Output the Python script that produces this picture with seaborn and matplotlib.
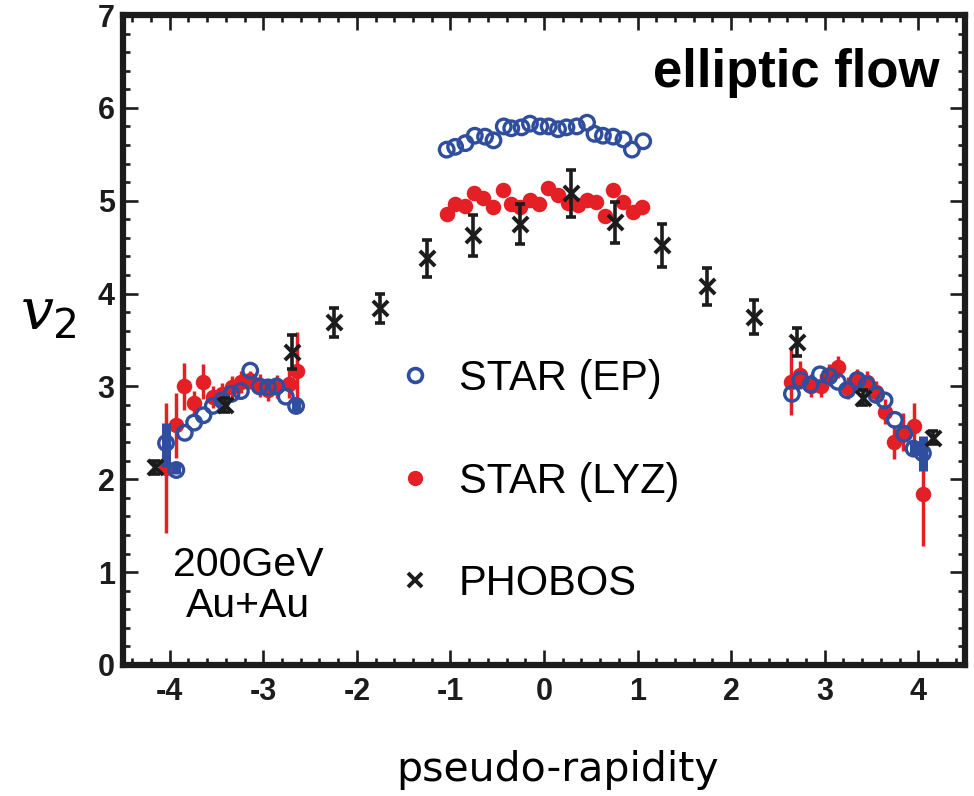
import numpy as np
import pandas as pd
import seaborn as sns
import matplotlib
matplotlib.use("Agg")
import matplotlib.pyplot as plt
from matplotlib.ticker import MultipleLocator
from matplotlib.lines import Line2D

# ---------------- data ----------------
ep_eta = [-4.04, -3.93, -3.84, -3.74, -3.64, -3.54, -3.44, -3.34, -3.24, -3.14, -3.04, -2.95, -2.86, -2.76, -2.65,
          -1.04, -0.95, -0.84, -0.74, -0.63, -0.54, -0.43, -0.35, -0.24, -0.15, -0.04, 0.05, 0.15, 0.24, 0.35,
          0.46, 0.54, 0.63, 0.74, 0.85, 0.94, 1.06,
          2.65, 2.74, 2.85, 2.95, 3.05, 3.14, 3.24, 3.35, 3.45, 3.55, 3.64, 3.75, 3.85, 3.95, 4.05]
ep_v2 = [2.39, 2.10, 2.50, 2.61, 2.69, 2.79, 2.85, 2.92, 2.95, 3.17, 3.00, 2.99, 3.00, 2.89, 2.79,
         5.55, 5.58, 5.62, 5.70, 5.69, 5.65, 5.80, 5.78, 5.79, 5.83, 5.80, 5.80, 5.77, 5.79, 5.80,
         5.84, 5.72, 5.70, 5.69, 5.66, 5.55, 5.64,
         2.92, 3.07, 3.02, 3.13, 3.11, 3.05, 2.96, 3.07, 3.02, 2.91, 2.85, 2.64, 2.49, 2.33, 2.28]
ep_sys_eta = [-4.04, -3.93, -2.65, 3.95, 4.05]
ep_sys_v2 = [2.37, 2.12, 2.80, 2.33, 2.28]
ep_sys_err = [0.24, 0.06, 0.08, 0.07, 0.19]

lyz_eta = [-4.04, -3.93, -3.85, -3.74, -3.64, -3.54, -3.44, -3.34, -3.24, -3.14, -3.04, -2.95, -2.85, -2.73, -2.64,
           -1.04, -0.95, -0.84, -0.75, -0.65, -0.54, -0.44, -0.35, -0.26, -0.15, -0.05, 0.04, 0.15, 0.26, 0.36,
           0.46, 0.56, 0.65, 0.74, 0.84, 0.95, 1.05,
           2.64, 2.74, 2.85, 2.96, 3.05, 3.14, 3.25, 3.35, 3.45, 3.55, 3.64, 3.74, 3.84, 3.95, 4.05]
lyz_v2 = [2.12, 2.58, 3.00, 2.82, 3.05, 2.89, 2.92, 2.99, 3.05, 3.07, 3.01, 2.96, 3.00, 3.03, 3.17,
          4.86, 4.96, 4.94, 5.08, 5.03, 4.93, 5.12, 4.96, 4.93, 5.01, 4.96, 5.14, 5.06, 4.98, 4.95,
          5.01, 4.99, 4.84, 5.12, 4.99, 4.88, 4.93,
          3.05, 3.12, 3.01, 3.01, 3.12, 3.21, 2.98, 3.07, 3.05, 2.94, 2.73, 2.40, 2.51, 2.57, 1.84]
lyz_err = [0.70, 0.35, 0.25, 0.13, 0.19, 0.12, 0.12, 0.12, 0.12, 0.10, 0.12, 0.12, 0.12, 0.15, 0.42,
           0.03, 0.03, 0.03, 0.03, 0.03, 0.03, 0.03, 0.03, 0.03, 0.03, 0.03, 0.03, 0.03, 0.03, 0.03,
           0.03, 0.03, 0.03, 0.03, 0.03, 0.03, 0.03,
           0.36, 0.15, 0.12, 0.12, 0.12, 0.12, 0.12, 0.12, 0.12, 0.12, 0.13, 0.18, 0.20, 0.25, 0.56]

phobos_eta = [-4.16, -3.41, -2.69, -2.25, -1.75, -1.25, -0.76, -0.26, 0.29, 0.76, 1.26, 1.74, 2.24, 2.70, 3.41, 4.16]
phobos_v2 = [2.13, 2.80, 3.37, 3.69, 3.84, 4.38, 4.63, 4.75, 5.08, 4.77, 4.52, 4.08, 3.75, 3.48, 2.88, 2.45]
phobos_err = [0.07, 0.08, 0.18, 0.16, 0.16, 0.20, 0.22, 0.22, 0.25, 0.22, 0.23, 0.20, 0.18, 0.15, 0.08, 0.07]

x_ticks = [-4, -3, -2, -1, 0, 1, 2, 3, 4]
y_ticks = [0, 1, 2, 3, 4, 5, 6, 7]
series_labels = ["STAR (EP)", "STAR (LYZ)", "PHOBOS"]

BLUE = "#2f4e9e"
RED = "#e41f26"
BLACK = "#1c1c1c"

ep_df = pd.DataFrame({"eta": ep_eta, "v2": ep_v2})
lyz_df = pd.DataFrame({"eta": lyz_eta, "v2": lyz_v2})
ph_df = pd.DataFrame({"eta": phobos_eta, "v2": phobos_v2})

# ---------------- style ----------------
sns.set_theme(style="white")
plt.rcParams["font.family"] = ["Liberation Sans", "DejaVu Sans"]
plt.rcParams["axes.unicode_minus"] = False
plt.rcParams["mathtext.fontset"] = "custom"
plt.rcParams["mathtext.it"] = "DejaVu Serif:italic"
plt.rcParams["mathtext.rm"] = "DejaVu Sans"

fig = plt.figure(figsize=(9.74, 7.96), dpi=100)
ax = fig.add_axes([123 / 974, 1 - 665 / 796, (965 - 123) / 974, (665 - 15) / 796])

# LYZ error bars + markers
ax.errorbar(lyz_eta, lyz_v2, yerr=lyz_err, fmt="none", ecolor=RED, elinewidth=2.5, capsize=0, zorder=2)
sns.scatterplot(data=lyz_df, x="eta", y="v2", ax=ax, color=RED, s=125, linewidth=0, zorder=3)

# EP systematic bars + open circles
ax.errorbar(ep_sys_eta, ep_sys_v2, yerr=ep_sys_err, fmt="none", ecolor=BLUE, elinewidth=6.5, capsize=0, zorder=4)
sns.scatterplot(data=ep_df, x="eta", y="v2", ax=ax, marker="o", s=110, facecolor="none",
                edgecolor=BLUE, linewidth=2.4, zorder=5)

# PHOBOS
ax.errorbar(phobos_eta, phobos_v2, yerr=phobos_err, fmt="none", ecolor=BLACK, elinewidth=2.6,
            capsize=3.4, capthick=2.6, zorder=6)
sns.scatterplot(data=ph_df, x="eta", y="v2", ax=ax, marker="x", s=120, color=BLACK, linewidth=2.8, zorder=7)

# axes
ax.set_xlim(-4.5, 4.5)
ax.set_ylim(0, 7)
ax.set_xticks(x_ticks)
ax.set_yticks(y_ticks)
ax.xaxis.set_minor_locator(MultipleLocator(0.2))
ax.yaxis.set_minor_locator(MultipleLocator(0.2))
ax.tick_params(which="both", direction="in", top=True, right=True, bottom=True, left=True,
               color=BLACK, width=1.9, labelcolor=BLACK)
ax.tick_params(which="major", length=11, pad=9, labelsize=22)
ax.tick_params(which="minor", length=5)
for sp in ax.spines.values():
    sp.set_linewidth(4.5)
    sp.set_color(BLACK)
for lab in ax.get_xticklabels() + ax.get_yticklabels():
    lab.set_family(["Liberation Sans Narrow", "Liberation Sans", "DejaVu Sans"])
    lab.set_fontweight("bold")
ax.tick_params(axis="y", pad=6)

ax.set_xlabel("pseudo-rapidity", fontsize=29.5, family="DejaVu Sans", color="black")
ax.xaxis.set_label_coords((558 - 123) / 842, (665 - 770) / 650)
ax.xaxis.label.set_va("center")
ax.set_ylabel(r"$v_{\rm 2}$", fontsize=42, rotation=0, color="black")
ax.yaxis.set_label_coords((48 - 123) / 842, (665 - 314) / 650)
ax.yaxis.label.set_va("center")
ax.yaxis.label.set_ha("center")

ax.text(0.970, 0.911, "elliptic flow", transform=ax.transAxes, ha="right", va="center",
        fontsize=38, fontweight="bold", color="black")
ax.text((248 - 123) / 842, (665 - 565) / 650, "200GeV", transform=ax.transAxes, ha="center",
        va="center", fontsize=29.5, color="black")
ax.text((248 - 123) / 842, (665 - 606) / 650, "Au+Au", transform=ax.transAxes, ha="center",
        va="center", fontsize=29.5, color="black")

handles = [
    Line2D([], [], ls="none", marker="o", markersize=10, markerfacecolor="none",
           markeredgecolor=BLUE, markeredgewidth=2.6),
    Line2D([], [], ls="none", marker="o", markersize=11, markerfacecolor=RED, markeredgewidth=0),
    Line2D([], [], ls="none", marker="x", markersize=9.5, color=BLACK, markeredgewidth=2.8),
]
ax.legend(handles, series_labels, loc="upper left", bbox_to_anchor=((394 - 123) / 842, (665 - 359) / 650),
          frameon=False, fontsize=30, handlelength=1.0, handletextpad=0.55, labelspacing=1.5,
          borderpad=0, borderaxespad=0, labelcolor="black")

fig.savefig("out.png", dpi=100)
